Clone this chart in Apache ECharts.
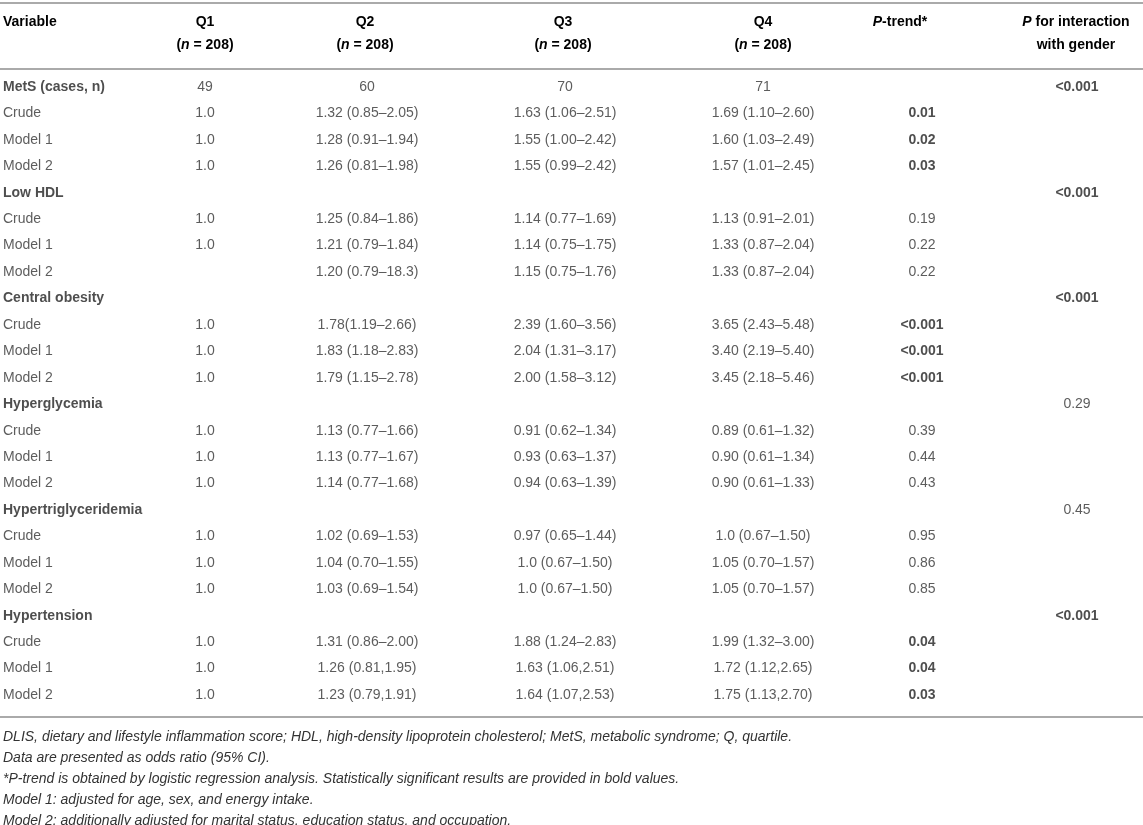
<!DOCTYPE html>
<html>
<head>
<meta charset="utf-8">
<script src="https://cdn.jsdelivr.net/npm/echarts@6/dist/echarts.min.js"></script>
<style>
  html, body { margin: 0; padding: 0; background: #fff; }
  #main { width: 1143px; height: 825px; }
</style>
</head>
<body>
<div id="main"></div>
<script>
// table content
var groups = ['MetS (cases, n)', 'Low HDL', 'Central obesity', 'Hyperglycemia', 'Hypertriglyceridemia', 'Hypertension'];
var models = ['Crude', 'Model 1', 'Model 2'];
var quartiles = ['Q1', 'Q2', 'Q3', 'Q4'];
var quartileN = [208, 208, 208, 208];

var q1 = ['49', '1.0', '1.0', '1.0',
          '', '1.0', '1.0', '',
          '', '1.0', '1.0', '1.0',
          '', '1.0', '1.0', '1.0',
          '', '1.0', '1.0', '1.0',
          '', '1.0', '1.0', '1.0'];
var q2 = ['60', '1.32 (0.85–2.05)', '1.28 (0.91–1.94)', '1.26 (0.81–1.98)',
          '', '1.25 (0.84–1.86)', '1.21 (0.79–1.84)', '1.20 (0.79–18.3)',
          '', '1.78(1.19–2.66)', '1.83 (1.18–2.83)', '1.79 (1.15–2.78)',
          '', '1.13 (0.77–1.66)', '1.13 (0.77–1.67)', '1.14 (0.77–1.68)',
          '', '1.02 (0.69–1.53)', '1.04 (0.70–1.55)', '1.03 (0.69–1.54)',
          '', '1.31 (0.86–2.00)', '1.26 (0.81,1.95)', '1.23 (0.79,1.91)'];
var q3 = ['70', '1.63 (1.06–2.51)', '1.55 (1.00–2.42)', '1.55 (0.99–2.42)',
          '', '1.14 (0.77–1.69)', '1.14 (0.75–1.75)', '1.15 (0.75–1.76)',
          '', '2.39 (1.60–3.56)', '2.04 (1.31–3.17)', '2.00 (1.58–3.12)',
          '', '0.91 (0.62–1.34)', '0.93 (0.63–1.37)', '0.94 (0.63–1.39)',
          '', '0.97 (0.65–1.44)', '1.0 (0.67–1.50)', '1.0 (0.67–1.50)',
          '', '1.88 (1.24–2.83)', '1.63 (1.06,2.51)', '1.64 (1.07,2.53)'];
var q4 = ['71', '1.69 (1.10–2.60)', '1.60 (1.03–2.49)', '1.57 (1.01–2.45)',
          '', '1.13 (0.91–2.01)', '1.33 (0.87–2.04)', '1.33 (0.87–2.04)',
          '', '3.65 (2.43–5.48)', '3.40 (2.19–5.40)', '3.45 (2.18–5.46)',
          '', '0.89 (0.61–1.32)', '0.90 (0.61–1.34)', '0.90 (0.61–1.33)',
          '', '1.0 (0.67–1.50)', '1.05 (0.70–1.57)', '1.05 (0.70–1.57)',
          '', '1.99 (1.32–3.00)', '1.72 (1.12,2.65)', '1.75 (1.13,2.70)'];
var pTrend = ['', '0.01', '0.02', '0.03',
              '', '0.19', '0.22', '0.22',
              '', '<0.001', '<0.001', '<0.001',
              '', '0.39', '0.44', '0.43',
              '', '0.95', '0.86', '0.85',
              '', '0.04', '0.04', '0.03'];
var pInteraction = ['<0.001', '<0.001', '<0.001', '0.29', '0.45', '<0.001'];

var footnotes = [
    'DLIS, dietary and lifestyle inflammation score; HDL, high-density lipoprotein cholesterol; MetS, metabolic syndrome; Q, quartile.',
    'Data are presented as odds ratio (95% CI).',
    '*P-trend is obtained by logistic regression analysis. Statistically significant results are provided in bold values.',
    'Model 1: adjusted for age, sex, and energy intake.',
    'Model 2: additionally adjusted for marital status, education status, and occupation.'
];

// layout
var W = 1143, H = 825;
var colX = [3, 205, 367, 565, 763, 922, 1077];
var headerX = [3, 205, 365, 563, 763, 900, 1076];
var FONT = 'Liberation Sans';
var FS = 14;
var TXT = '#222';
var TXT_REG = '#333';
var RULE = '#aaa';

// rows: group header + 3 models per group
var rowLabels = [];
var rowIsGroup = [];
groups.forEach(function (g) {
    rowLabels.push(g); rowIsGroup.push(true);
    models.forEach(function (m) { rowLabels.push(m); rowIsGroup.push(false); });
});
var rowIdx = rowLabels.map(function (r, i) { return String(i); });

function isSig(s) {
    if (!s) return false;
    if (s.charAt(0) == '<') return true;
    return parseFloat(s) < 0.05;
}

function cellSeries(col, values, boldFn) {
    var data = [];
    values.forEach(function (v, i) {
        if (v === '') return;
        var bold = boldFn(v, i);
        data.push({
            value: [colX[col], String(i)],
            label: { formatter: v, fontWeight: bold ? 'bold' : 'normal', color: bold ? TXT : TXT_REG }
        });
    });
    return {
        type: 'scatter',
        symbolSize: 0,
        silent: true,
        data: data,
        label: {
            show: true,
            position: 'inside',
            align: col == 0 ? 'left' : 'center',
            verticalAlign: 'middle',
            fontFamily: FONT,
            fontSize: FS
        }
    };
}

var interactionCol = rowLabels.map(function () { return ''; });
pInteraction.forEach(function (p, g) { interactionCol[g * 4] = p; });

var series = [
    cellSeries(0, rowLabels, function (v, i) { return rowIsGroup[i]; }),
    cellSeries(1, q1, function () { return false; }),
    cellSeries(2, q2, function () { return false; }),
    cellSeries(3, q3, function () { return false; }),
    cellSeries(4, q4, function () { return false; }),
    cellSeries(5, pTrend, isSig),
    cellSeries(6, interactionCol, isSig)
];

// header + rules + footnotes
var rich = {
    b: { fontFamily: FONT, fontSize: FS, fontWeight: 'bold', color: TXT },
    bi: { fontFamily: FONT, fontSize: FS, fontWeight: 'bold', fontStyle: 'italic', color: TXT }
};
function headText(x, y, rt, align) {
    return {
        type: 'text', x: x, y: y,
        style: { text: rt, rich: rich, align: align || 'center', verticalAlign: 'middle' }
    };
}
var graphics = [];
function rule(y) {
    graphics.push({ type: 'line', shape: { x1: 0, y1: y, x2: W, y2: y },
        style: { stroke: RULE, lineWidth: 2 } });
}
rule(3); rule(69); rule(717);
graphics.push(headText(headerX[0], 22, '{b|Variable}', 'left'));
quartiles.forEach(function (q, i) {
    graphics.push(headText(headerX[i + 1], 22, '{b|' + q + '}'));
    graphics.push(headText(headerX[i + 1], 45, '{b|(}{bi|n}{b| = ' + quartileN[i] + ')}'));
});
graphics.push(headText(headerX[5], 22, '{bi|P}{b|-trend*}'));
graphics.push(headText(headerX[6], 22, '{bi|P}{b| for interaction}'));
graphics.push(headText(headerX[6], 45, '{b|with gender}'));
footnotes.forEach(function (f, i) {
    graphics.push({
        type: 'text', x: 3, y: 737 + i * 21,
        style: { text: f, fontFamily: FONT, fontSize: 14, fontStyle: 'italic',
                 fill: '#333', align: 'left', verticalAlign: 'middle' }
    });
});

var chart = echarts.init(document.getElementById('main'));
chart.setOption({
    animation: false,
    backgroundColor: '#fff',
    grid: { left: 0, right: 0, top: 73.8, bottom: 116.8 },
    xAxis: { type: 'value', min: 0, max: W, show: false },
    yAxis: { type: 'category', data: rowIdx, inverse: true, show: false },
    series: series,
    graphic: graphics
});
</script>
</body>
</html>
